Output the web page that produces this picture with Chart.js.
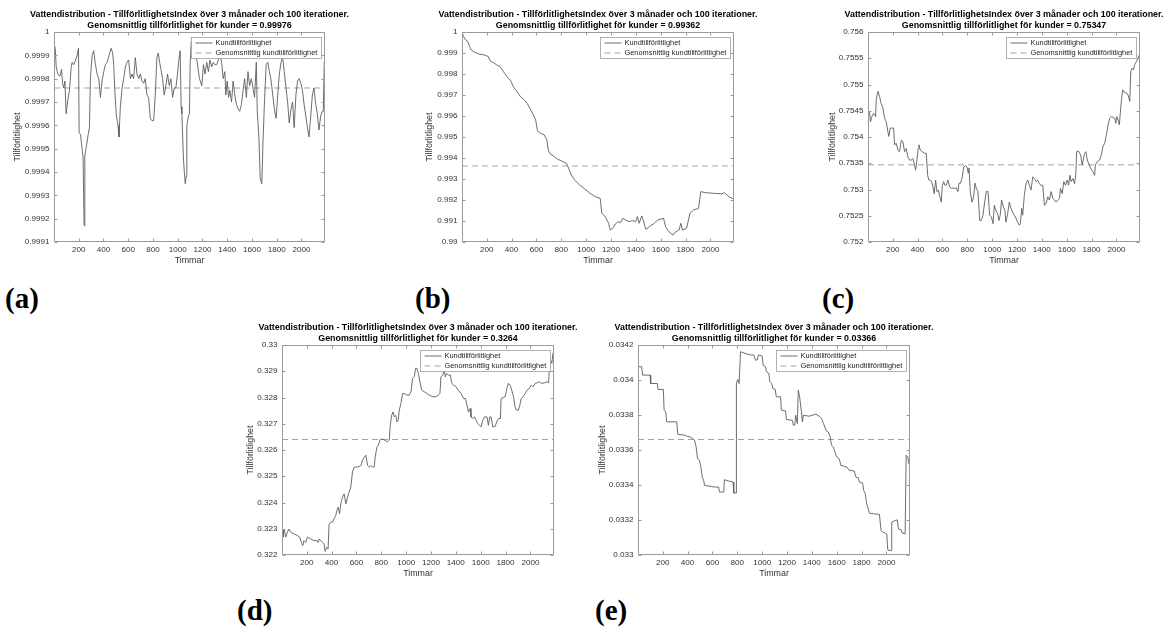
<!DOCTYPE html>
<html>
<head>
<meta charset="utf-8">
<script src="https://cdn.jsdelivr.net/npm/chart.js@4.4.1/dist/chart.umd.min.js"></script>
<style>
  body { margin: 0; background: #fff; width: 1173px; height: 628px; overflow: hidden; position: relative; }
  canvas { position: absolute; }
  .tag { position: absolute; font: bold 29px "Liberation Serif", "Times New Roman", serif; line-height: 29px; color: #000; }
</style>
</head>
<body>
<canvas id="chartA"></canvas>
<canvas id="chartB"></canvas>
<canvas id="chartC"></canvas>
<canvas id="chartD"></canvas>
<canvas id="chartE"></canvas>
<div class="tag" style="left:5px;top:284px">(a)</div>
<div class="tag" style="left:415px;top:284px">(b)</div>
<div class="tag" style="left:822px;top:284px">(c)</div>
<div class="tag" style="left:237px;top:596px">(d)</div>
<div class="tag" style="left:595px;top:596px">(e)</div>
<script>
// shared axis data
const xTicks = [200, 400, 600, 800, 1000, 1200, 1400, 1600, 1800, 2000];
const hourRange = [1, 2190];
const seriesLabels = ["Kundtillförlitlighet", "Genomsnittlig kundtillförlitlighet"];
const titleLine = "Vattendistribution - TillförlitlighetsIndex över 3 månader och 100 iterationer.";

// (a)
const hoursA = [1, 11, 19, 32, 48, 62, 70, 80, 89, 99, 113, 126, 140, 148, 161, 175, 188, 199, 204, 215, 228, 236, 244, 250, 263, 277, 287, 295, 309, 322, 333, 349, 363, 376, 389, 403, 416, 430, 446, 462, 475, 483, 494, 505, 518, 526, 537, 551, 564, 577, 591, 604, 618, 631, 644, 658, 671, 685, 698, 711, 725, 738, 752, 765, 779, 792, 806, 819, 832, 843, 854, 865, 878, 891, 905, 918, 932, 945, 959, 972, 985, 999, 1007, 1020, 1028, 1034, 1047, 1061, 1068, 1074, 1087, 1095, 1101, 1110, 1128, 1155, 1176, 1195, 1208, 1221, 1235, 1248, 1261, 1275, 1288, 1301, 1315, 1328, 1341, 1355, 1368, 1381, 1389, 1400, 1411, 1421, 1435, 1448, 1461, 1475, 1488, 1501, 1515, 1528, 1541, 1555, 1568, 1581, 1595, 1608, 1621, 1635, 1643, 1656, 1667, 1680, 1688, 1701, 1715, 1728, 1741, 1755, 1768, 1781, 1795, 1808, 1821, 1835, 1848, 1861, 1875, 1888, 1901, 1915, 1928, 1941, 1955, 1968, 1981, 1995, 2008, 2021, 2035, 2048, 2061, 2075, 2088, 2101, 2115, 2128, 2141, 2155, 2168, 2176, 2184];
const reliabilityA = [0.99995, 0.99993, 0.99985, 0.99982, 0.99981, 0.99984, 0.99978, 0.99976, 0.99979, 0.99965, 0.99971, 0.99975, 0.99985, 0.99987, 0.99986, 0.99988, 0.99990, 0.99993, 0.99957, 0.99956, 0.99950, 0.99946, 0.99917, 0.99947, 0.99951, 0.99956, 0.99959, 0.99980, 0.99990, 0.99992, 0.99987, 0.99982, 0.99980, 0.99972, 0.99979, 0.99983, 0.99986, 0.99987, 0.99990, 0.99993, 0.99991, 0.99986, 0.99973, 0.99964, 0.99960, 0.99955, 0.99968, 0.99976, 0.99980, 0.99985, 0.99987, 0.99988, 0.99980, 0.99982, 0.99980, 0.99989, 0.99982, 0.99980, 0.99982, 0.99979, 0.99978, 0.99980, 0.99973, 0.99972, 0.99963, 0.99962, 0.99962, 0.99973, 0.99989, 0.99991, 0.99987, 0.99984, 0.99980, 0.99973, 0.99977, 0.99982, 0.99977, 0.99980, 0.99972, 0.99976, 0.99976, 0.99982, 0.99987, 0.99992, 0.99968, 0.99965, 0.99945, 0.99935, 0.99938, 0.99960, 0.99964, 0.99965, 0.99987, 0.99996, 0.99990, 0.99988, 0.99980, 0.99977, 0.99986, 0.99982, 0.99987, 0.99983, 0.99988, 0.99985, 0.99987, 0.99986, 0.99986, 0.99988, 0.99990, 0.99987, 0.99980, 0.99983, 0.99973, 0.99979, 0.99972, 0.99975, 0.99970, 0.99979, 0.99973, 0.99969, 0.99967, 0.99966, 0.99969, 0.99975, 0.99980, 0.99972, 0.99983, 0.99977, 0.99980, 0.99976, 0.99972, 0.99987, 0.99966, 0.99955, 0.99937, 0.99935, 0.99951, 0.99970, 0.99986, 0.99987, 0.99983, 0.99979, 0.99973, 0.99967, 0.99963, 0.99973, 0.99982, 0.99987, 0.99989, 0.99983, 0.99976, 0.99970, 0.99961, 0.99967, 0.99970, 0.99959, 0.99973, 0.99979, 0.99980, 0.99978, 0.99975, 0.99969, 0.99964, 0.99959, 0.99955, 0.99964, 0.99973, 0.99976, 0.99969, 0.99965, 0.99958, 0.99964, 0.99966, 0.99966, 0.99987];
const meanA = "0.99976";
const yTicksA = [0.9991, 0.9992, 0.9993, 0.9994, 0.9995, 0.9996, 0.9997, 0.9998, 0.9999, 1];

// (b)
const hoursB = [1, 14, 30, 49, 63, 76, 104, 145, 185, 213, 226, 254, 281, 308, 335, 363, 390, 417, 444, 472, 499, 526, 554, 575, 594, 608, 635, 663, 684, 695, 712, 745, 772, 813, 840, 854, 881, 908, 949, 990, 1031, 1072, 1113, 1126, 1154, 1181, 1194, 1214, 1235, 1257, 1276, 1295, 1317, 1344, 1372, 1399, 1413, 1426, 1448, 1459, 1481, 1508, 1549, 1576, 1623, 1639, 1666, 1699, 1721, 1748, 1762, 1775, 1808, 1836, 1863, 1904, 1923, 1958, 2026, 2094, 2113, 2149, 2190];
const reliabilityB = [1.0000, 0.99978, 0.99962, 0.99954, 0.99930, 0.99914, 0.99903, 0.99894, 0.99890, 0.99883, 0.99863, 0.99854, 0.99843, 0.99835, 0.99811, 0.99787, 0.99771, 0.99737, 0.99716, 0.99692, 0.99679, 0.99660, 0.99629, 0.99605, 0.99581, 0.99530, 0.99517, 0.99510, 0.99486, 0.99438, 0.99419, 0.99406, 0.99394, 0.99383, 0.99375, 0.99359, 0.99319, 0.99295, 0.99271, 0.99252, 0.99232, 0.99216, 0.99208, 0.99137, 0.99121, 0.99089, 0.99057, 0.99065, 0.99086, 0.99097, 0.99092, 0.99113, 0.99105, 0.99097, 0.99102, 0.99097, 0.99121, 0.99089, 0.99124, 0.99105, 0.99060, 0.99073, 0.99089, 0.99105, 0.99113, 0.99073, 0.99049, 0.99033, 0.99049, 0.99057, 0.99089, 0.99057, 0.99065, 0.99137, 0.99152, 0.99160, 0.99240, 0.99235, 0.99232, 0.99229, 0.99235, 0.99216, 0.99203];
const meanB = "0.99362";
const yTicksB = [0.99, 0.991, 0.992, 0.993, 0.994, 0.995, 0.996, 0.997, 0.998, 0.999, 1];

// (c)
const hoursC = [1, 13, 21, 32, 46, 62, 67, 81, 94, 107, 121, 134, 148, 161, 169, 180, 196, 207, 215, 228, 242, 255, 269, 282, 295, 309, 322, 336, 349, 362, 376, 384, 395, 405, 411, 422, 438, 456, 470, 481, 491, 502, 513, 524, 534, 545, 556, 567, 577, 591, 599, 610, 620, 631, 644, 658, 671, 685, 698, 712, 725, 733, 746, 760, 771, 787, 797, 808, 814, 824, 838, 851, 862, 873, 886, 900, 913, 926, 940, 953, 967, 980, 994, 1007, 1018, 1030, 1044, 1055, 1065, 1076, 1090, 1103, 1111, 1125, 1138, 1152, 1165, 1178, 1192, 1205, 1219, 1227, 1238, 1246, 1259, 1273, 1286, 1300, 1313, 1327, 1340, 1354, 1367, 1380, 1394, 1407, 1421, 1434, 1448, 1461, 1475, 1488, 1502, 1515, 1529, 1542, 1550, 1564, 1577, 1590, 1604, 1615, 1626, 1636, 1650, 1663, 1674, 1680, 1696, 1712, 1725, 1733, 1744, 1755, 1766, 1776, 1793, 1812, 1825, 1831, 1847, 1865, 1879, 1892, 1906, 1919, 1933, 1946, 1960, 1973, 1987, 1995, 2003, 2014, 2024, 2030, 2041, 2051, 2067, 2081, 2094, 2108, 2116, 2127, 2137, 2148, 2162, 2175, 2190];
const reliabilityC = [0.75452, 0.75448, 0.75429, 0.75439, 0.75445, 0.75439, 0.75471, 0.75487, 0.75477, 0.75464, 0.75455, 0.75436, 0.75429, 0.75410, 0.75401, 0.75417, 0.75417, 0.75417, 0.75385, 0.75388, 0.75375, 0.75372, 0.75394, 0.75391, 0.75372, 0.75378, 0.75362, 0.75356, 0.75356, 0.75359, 0.75347, 0.75337, 0.75356, 0.75378, 0.75385, 0.75375, 0.75372, 0.75369, 0.75369, 0.75327, 0.75318, 0.75318, 0.75315, 0.75305, 0.75292, 0.75318, 0.75296, 0.75299, 0.75289, 0.75276, 0.75308, 0.75315, 0.75308, 0.75308, 0.75318, 0.75305, 0.75302, 0.75303, 0.75302, 0.75303, 0.75296, 0.75312, 0.75312, 0.75324, 0.75343, 0.75345, 0.75343, 0.75331, 0.75341, 0.75296, 0.75276, 0.75286, 0.75312, 0.75302, 0.75296, 0.75241, 0.75241, 0.75251, 0.75276, 0.75296, 0.75296, 0.75251, 0.75248, 0.75235, 0.75270, 0.75260, 0.75254, 0.75241, 0.75251, 0.75280, 0.75267, 0.75260, 0.75238, 0.75254, 0.75276, 0.75264, 0.75257, 0.75251, 0.75245, 0.75238, 0.75232, 0.75235, 0.75264, 0.75251, 0.75289, 0.75311, 0.75318, 0.75308, 0.75299, 0.75324, 0.75321, 0.75315, 0.75318, 0.75311, 0.75308, 0.75308, 0.75270, 0.75273, 0.75286, 0.75280, 0.75296, 0.75283, 0.75280, 0.75276, 0.75280, 0.75283, 0.75302, 0.75292, 0.75315, 0.75308, 0.75318, 0.75308, 0.75327, 0.75315, 0.75321, 0.75311, 0.75331, 0.75372, 0.75373, 0.75366, 0.75347, 0.75356, 0.75369, 0.75372, 0.75356, 0.75350, 0.75340, 0.75334, 0.75327, 0.75347, 0.75353, 0.75356, 0.75366, 0.75382, 0.75388, 0.75404, 0.75423, 0.75436, 0.75439, 0.75437, 0.75436, 0.75426, 0.75439, 0.75432, 0.75423, 0.75442, 0.75471, 0.75490, 0.75484, 0.75484, 0.75480, 0.75468, 0.75525, 0.75531, 0.75528, 0.75538, 0.75544, 0.75550, 0.75560];
const meanC = "0.75347";
const yTicksC = [0.752, 0.7525, 0.753, 0.7535, 0.754, 0.7545, 0.755, 0.7555, 0.756];

// (d)
const hoursD = [1, 9, 17, 31, 44, 58, 71, 98, 125, 144, 157, 168, 178, 192, 205, 232, 259, 281, 291, 300, 327, 340, 348, 361, 372, 380, 394, 407, 420, 434, 442, 453, 464, 474, 488, 501, 515, 528, 541, 555, 568, 582, 609, 636, 649, 662, 676, 690, 703, 716, 730, 743, 751, 765, 776, 791, 810, 829, 851, 864, 872, 883, 896, 904, 917, 926, 936, 945, 958, 972, 985, 1006, 1025, 1039, 1052, 1066, 1076, 1087, 1098, 1111, 1125, 1146, 1168, 1186, 1213, 1240, 1259, 1272, 1280, 1294, 1307, 1315, 1326, 1340, 1356, 1367, 1383, 1402, 1420, 1442, 1463, 1477, 1490, 1501, 1514, 1522, 1536, 1549, 1563, 1576, 1590, 1603, 1617, 1630, 1651, 1662, 1673, 1684, 1697, 1716, 1729, 1743, 1759, 1764, 1781, 1797, 1810, 1823, 1837, 1850, 1864, 1877, 1888, 1904, 1915, 1926, 1942, 1958, 1974, 1990, 2006, 2022, 2039, 2055, 2073, 2087, 2114, 2135, 2146, 2154, 2162, 2173, 2181, 2190];
const reliabilityD = [0.32293, 0.32268, 0.32299, 0.32268, 0.32287, 0.32299, 0.32287, 0.32280, 0.32274, 0.32268, 0.32248, 0.32236, 0.32255, 0.32248, 0.32268, 0.32261, 0.32255, 0.32255, 0.32248, 0.32261, 0.32248, 0.32242, 0.32214, 0.32229, 0.32223, 0.32318, 0.32325, 0.32325, 0.32338, 0.32350, 0.32369, 0.32382, 0.32357, 0.32395, 0.32420, 0.32433, 0.32395, 0.32420, 0.32439, 0.32459, 0.32516, 0.32535, 0.32535, 0.32541, 0.32561, 0.32573, 0.32580, 0.32541, 0.32535, 0.32541, 0.32535, 0.32535, 0.32573, 0.32611, 0.32618, 0.32640, 0.32642, 0.32637, 0.32631, 0.32637, 0.32694, 0.32732, 0.32745, 0.32726, 0.32732, 0.32707, 0.32713, 0.32752, 0.32777, 0.32815, 0.32815, 0.32809, 0.32809, 0.32822, 0.32873, 0.32879, 0.32911, 0.32911, 0.32892, 0.32860, 0.32828, 0.32822, 0.32815, 0.32809, 0.32803, 0.32803, 0.32809, 0.32815, 0.32879, 0.32885, 0.32904, 0.32879, 0.32892, 0.32885, 0.32885, 0.32854, 0.32847, 0.32841, 0.32828, 0.32815, 0.32796, 0.32796, 0.32771, 0.32745, 0.32758, 0.32726, 0.32720, 0.32726, 0.32713, 0.32701, 0.32694, 0.32688, 0.32713, 0.32726, 0.32726, 0.32694, 0.32726, 0.32726, 0.32688, 0.32690, 0.32707, 0.32720, 0.32720, 0.32796, 0.32800, 0.32803, 0.32834, 0.32854, 0.32847, 0.32828, 0.32803, 0.32764, 0.32752, 0.32752, 0.32771, 0.32796, 0.32803, 0.32815, 0.32828, 0.32834, 0.32847, 0.32841, 0.32854, 0.32856, 0.32860, 0.32854, 0.32856, 0.32860, 0.32856, 0.32917, 0.32943, 0.32930, 0.32968, 0.32975];
const meanD = "0.3264";
const yTicksD = [0.322, 0.323, 0.324, 0.325, 0.326, 0.327, 0.328, 0.329, 0.33];

// (e)
const hoursE = [1, 30, 38, 98, 103, 157, 162, 205, 211, 224, 232, 313, 321, 380, 394, 421, 443, 456, 469, 480, 496, 507, 518, 529, 537, 623, 650, 656, 691, 696, 731, 766, 772, 791, 793, 804, 815, 826, 847, 879, 912, 933, 946, 960, 971, 1000, 1008, 1027, 1035, 1054, 1062, 1078, 1086, 1105, 1114, 1149, 1154, 1189, 1195, 1243, 1251, 1262, 1270, 1283, 1291, 1302, 1316, 1324, 1332, 1378, 1432, 1460, 1478, 1494, 1513, 1532, 1548, 1558, 1574, 1585, 1601, 1620, 1634, 1661, 1682, 1701, 1741, 1755, 1774, 1782, 1809, 1817, 1830, 1841, 1850, 1863, 1903, 1944, 1957, 1971, 1992, 2003, 2011, 2038, 2043, 2071, 2087, 2097, 2119, 2128, 2151, 2159, 2173, 2178, 2190];
const reliabilityE = [0.034076, 0.034076, 0.034028, 0.034028, 0.033980, 0.033980, 0.033946, 0.033946, 0.033828, 0.033818, 0.033761, 0.033761, 0.033690, 0.033684, 0.033679, 0.033675, 0.033665, 0.033656, 0.033617, 0.033550, 0.033541, 0.033503, 0.033445, 0.033426, 0.033398, 0.033388, 0.033388, 0.033360, 0.033360, 0.033430, 0.033423, 0.033417, 0.033354, 0.033354, 0.033984, 0.034003, 0.033980, 0.034162, 0.034156, 0.034148, 0.034143, 0.034143, 0.034114, 0.034114, 0.034143, 0.034137, 0.034085, 0.034076, 0.034047, 0.034038, 0.033990, 0.033980, 0.033952, 0.033946, 0.033904, 0.033904, 0.033828, 0.033824, 0.033774, 0.033770, 0.033742, 0.033742, 0.033799, 0.033751, 0.033942, 0.033904, 0.033818, 0.033761, 0.033799, 0.033793, 0.033805, 0.033793, 0.033780, 0.033751, 0.033713, 0.033703, 0.033675, 0.033627, 0.033617, 0.033589, 0.033560, 0.033550, 0.033512, 0.033507, 0.033503, 0.033484, 0.033480, 0.033445, 0.033442, 0.033417, 0.033411, 0.033369, 0.033350, 0.033293, 0.033274, 0.033239, 0.033235, 0.033232, 0.033140, 0.033130, 0.033125, 0.033121, 0.033029, 0.033025, 0.033188, 0.033197, 0.033201, 0.033149, 0.033144, 0.033125, 0.033121, 0.033570, 0.033560, 0.033526, 0.033512];
const meanE = "0.03366";
const yTicksE = [0.033, 0.0332, 0.0334, 0.0336, 0.0338, 0.034, 0.0342];

// where each plot box sits on the page, and how far the y label is from it
const panels = [
  { id: "chartA", hours: hoursA, values: reliabilityA, mean: meanA, yTicks: yTicksA, box: [54, 32, 271, 210], yGap: 36 },
  { id: "chartB", hours: hoursB, values: reliabilityB, mean: meanB, yTicks: yTicksB, box: [462, 32, 272, 210], yGap: 32 },
  { id: "chartC", hours: hoursC, values: reliabilityC, mean: meanC, yTicks: yTicksC, box: [868, 32, 272, 210], yGap: 35 },
  { id: "chartD", hours: hoursD, values: reliabilityD, mean: meanD, yTicks: yTicksD, box: [282, 345, 272, 210], yGap: 31 },
  { id: "chartE", hours: hoursE, values: reliabilityE, mean: meanE, yTicks: yTicksE, box: [638, 345, 272, 210], yGap: 35 }
];

const SIDE = 60, TOP = 30, BOTTOM = 32;
const font = "'Liberation Sans', Arial, sans-serif";

// box, inward ticks on all four sides, and a MATLAB style legend in the corner
const matlabFrame = {
  id: "matlabFrame",
  afterDatasetsDraw(chart) {
    const { ctx, chartArea: a, scales } = chart;
    const L = Math.round(a.left) + 0.5, R = Math.round(a.right) - 0.5;
    const T = Math.round(a.top) + 0.5, B = Math.round(a.bottom) - 0.5;
    ctx.save();
    ctx.strokeStyle = "#9a9a9a";
    ctx.lineWidth = 1;
    ctx.beginPath();
    ctx.rect(L, T, R - L, B - T);
    scales.x.ticks.forEach(t => {
      const px = Math.round(scales.x.getPixelForValue(t.value)) + 0.5;
      ctx.moveTo(px, B); ctx.lineTo(px, B - 3);
      ctx.moveTo(px, T); ctx.lineTo(px, T + 3);
    });
    scales.y.ticks.forEach(t => {
      const py = Math.round(scales.y.getPixelForValue(t.value)) + 0.5;
      ctx.moveTo(L, py); ctx.lineTo(L + 3, py);
      ctx.moveTo(R, py); ctx.lineTo(R - 3, py);
    });
    ctx.stroke();

    // legend
    const sets = chart.data.datasets;
    ctx.font = "7.4px " + font;
    const textW = Math.max(...sets.map(d => ctx.measureText(d.label).width));
    const w = Math.round(24 + textW + 4.5), h = 21;
    const lx = Math.round(a.right - 4.5 - w) + 0.5, ly = Math.round(a.top + 5) + 0.5;
    ctx.fillStyle = "#fff";
    ctx.fillRect(lx, ly, w, h);
    ctx.strokeStyle = "#a0a0a0";
    ctx.lineWidth = 0.8;
    ctx.strokeRect(lx, ly, w, h);
    sets.forEach((d, i) => {
      const cy = ly + 5.5 + i * 10;
      ctx.beginPath();
      ctx.strokeStyle = d.borderColor;
      ctx.lineWidth = d.borderWidth;
      ctx.setLineDash(d.borderDash || []);
      ctx.moveTo(lx + 4, cy);
      ctx.lineTo(lx + 21, cy);
      ctx.stroke();
      ctx.setLineDash([]);
      ctx.fillStyle = "#222";
      ctx.textBaseline = "middle";
      ctx.fillText(d.label, lx + 24, cy);
    });
    ctx.restore();
  }
};

panels.forEach(p => {
  const [bx, by, bw, bh] = p.box;
  const canvas = document.getElementById(p.id);
  canvas.width = bw + 2 * SIDE;
  canvas.height = TOP + bh + BOTTOM;
  canvas.style.left = (bx - SIDE) + "px";
  canvas.style.top = (by - TOP) + "px";

  const yMin = p.yTicks[0], yMax = p.yTicks[p.yTicks.length - 1];
  const mean = parseFloat(p.mean);

  new Chart(canvas, {
    type: "line",
    data: {
      datasets: [
        {
          label: seriesLabels[0],
          data: p.hours.map((h, i) => ({ x: h, y: p.values[i] })),
          borderColor: "#5e5e5e",
          borderWidth: 0.9,
          pointRadius: 0,
          tension: 0,
          yAxisID: "y"
        },
        {
          label: seriesLabels[1],
          data: hourRange.map(h => ({ x: h, y: mean })),
          borderColor: "#a3a3a3",
          borderWidth: 1,
          borderDash: [6, 4],
          pointRadius: 0,
          yAxisID: "y"
        }
      ]
    },
    options: {
      responsive: false,
      animation: false,
      devicePixelRatio: 1,
      layout: { padding: 0 },
      plugins: {
        legend: { display: false },
        tooltip: { enabled: false },
        title: {
          display: true,
          text: [titleLine, "Genomsnittlig tillförlitlighet för kunder = " + p.mean],
          color: "#000",
          font: { family: font, size: 8.9, weight: "bold", lineHeight: 1.236 },
          padding: { top: 7.5, bottom: 0.5 }
        }
      },
      scales: {
        x: {
          type: "linear",
          min: hourRange[0],
          max: hourRange[1],
          afterBuildTicks: s => { s.ticks = xTicks.map(v => ({ value: v })); },
          afterFit: s => { s.height = BOTTOM; },
          grid: { display: false, drawTicks: false },
          border: { display: false },
          ticks: { color: "#333", font: { family: font, size: 8.1 }, padding: 3, maxRotation: 0, autoSkip: false, callback: v => String(v) },
          title: { display: true, text: "Timmar", color: "#333", font: { family: font, size: 8.9 }, padding: { top: 0, bottom: 7.7 } }
        },
        y: {
          type: "linear",
          position: "left",
          min: yMin,
          max: yMax,
          afterBuildTicks: s => { s.ticks = p.yTicks.map(v => ({ value: v })); },
          afterFit: s => { s.width = SIDE; },
          grid: { display: false, drawTicks: false },
          border: { display: false },
          ticks: { color: "#333", font: { family: font, size: 8.1 }, padding: 4.5, autoSkip: false, callback: v => String(v) },
          title: { display: true, text: "Tillförlitlighet", color: "#333", font: { family: font, size: 8.9 }, padding: { top: SIDE - p.yGap - 5.34, bottom: 0 } }
        },
        // empty mirror axis so the title centres over the plot box
        yMirror: {
          axis: "y",
          position: "right",
          display: true,
          afterFit: s => { s.width = SIDE; },
          grid: { display: false, drawTicks: false },
          border: { display: false },
          ticks: { display: false }
        }
      }
    },
    plugins: [matlabFrame]
  });
});
</script>
</body>
</html>
